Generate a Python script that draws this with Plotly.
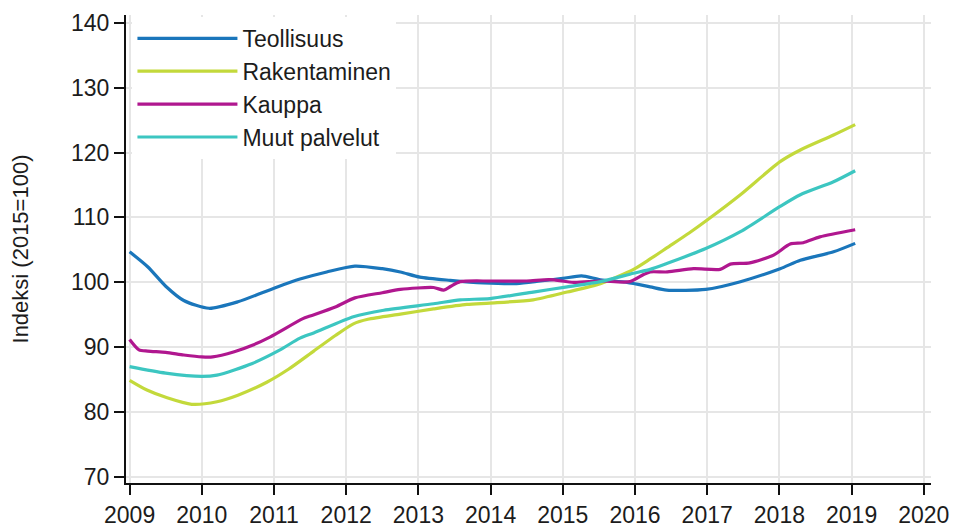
import plotly.graph_objects as go

# ---- data ----
series_names = ["Teollisuus", "Rakentaminen", "Kauppa", "Muut palvelut"]
series_colors = ["#1a76bb", "#c3d93b", "#b0178f", "#3cc6c1"]

teollisuus_x = [2009.0, 2009.25, 2009.5, 2009.75, 2010.1, 2010.5, 2011.0, 2011.36, 2011.73,
                2012.12, 2012.5, 2012.75, 2013.02, 2013.44, 2013.9, 2014.36, 2014.69, 2015.0,
                2015.26, 2015.52, 2015.89, 2016.21, 2016.44, 2016.98, 2017.46, 2018.01,
                2018.29, 2018.75, 2019.05]
teollisuus_y = [104.7, 102.4, 99.4, 97.2, 96.0, 97.0, 99.1, 100.5, 101.6,
                102.5, 102.1, 101.6, 100.8, 100.3, 99.9, 99.8, 100.2, 100.6,
                101.0, 100.4, 100.0, 99.3, 98.8, 98.9, 100.1, 102.1,
                103.4, 104.7, 106.0]

rakentaminen_x = [2009.0, 2009.24, 2009.52, 2009.86, 2010.21, 2010.5, 2010.9, 2011.2, 2011.55,
                  2011.85, 2012.1, 2012.3, 2012.75, 2013.21, 2013.67, 2013.99, 2014.59, 2015.06,
                  2015.52, 2015.98, 2016.21, 2016.44, 2016.75, 2017.0, 2017.46, 2018.01,
                  2018.29, 2018.75, 2019.05]
rakentaminen_y = [84.9, 83.4, 82.2, 81.2, 81.6, 82.6, 84.6, 86.6, 89.4,
                  91.8, 93.6, 94.3, 95.1, 95.9, 96.6, 96.8, 97.3, 98.5,
                  99.8, 102.0, 103.6, 105.3, 107.6, 109.6, 113.5, 118.6,
                  120.4, 122.7, 124.3]

kauppa_x = [2009.0, 2009.13, 2009.25, 2009.5, 2009.75, 2010.0, 2010.15, 2010.45, 2010.7,
            2010.95, 2011.4, 2011.5, 2011.85, 2012.12, 2012.5, 2012.75, 2013.21, 2013.35,
            2013.45, 2013.58, 2014.0, 2014.5, 2014.82, 2015.15, 2015.52, 2015.93, 2016.12,
            2016.21, 2016.45, 2016.81, 2017.18, 2017.32, 2017.59, 2017.92, 2018.15, 2018.33,
            2018.56, 2019.05]
kauppa_y = [91.2, 89.6, 89.4, 89.2, 88.8, 88.5, 88.5, 89.3, 90.3,
            91.6, 94.4, 94.8, 96.2, 97.6, 98.4, 98.9, 99.2, 98.8,
            99.4, 100.1, 100.2, 100.2, 100.4, 100.0, 100.2, 100.1, 101.2,
            101.6, 101.6, 102.1, 102.0, 102.8, 103.0, 104.2, 105.9, 106.1,
            107.0, 108.1]

muut_x = [2009.0, 2009.5, 2010.0, 2010.21, 2010.7, 2011.07, 2011.36, 2011.55, 2012.1,
          2012.52, 2013.21, 2013.58, 2013.99, 2014.59, 2015.06, 2015.52, 2015.98, 2016.21,
          2016.44, 2016.98, 2017.46, 2018.01, 2018.29, 2018.75, 2019.05]
muut_y = [87.0, 86.0, 85.5, 85.7, 87.5, 89.5, 91.4, 92.2, 94.7,
          95.7, 96.7, 97.3, 97.5, 98.5, 99.3, 100.1, 101.4, 102.0,
          102.9, 105.2, 107.8, 111.7, 113.5, 115.5, 117.2]

x_ticks = list(range(2009, 2021))
y_ticks = list(range(70, 141, 10))
y_title = "Indeksi (2015=100)"

FONT = "Liberation Sans, Arial, sans-serif"
FS = 23

fig = go.Figure()
for name, color, xs, ys in zip(series_names, series_colors,
                               [teollisuus_x, rakentaminen_x, kauppa_x, muut_x],
                               [teollisuus_y, rakentaminen_y, kauppa_y, muut_y]):
    fig.add_trace(go.Scatter(x=xs, y=ys, name=name, mode="lines",
                             line=dict(color=color, width=3.2, shape="spline", smoothing=0.7)))

fig.update_layout(
    width=953, height=529,
    margin=dict(l=126, r=22, t=15, b=46, autoexpand=False),
    paper_bgcolor="white", plot_bgcolor="white",
    font=dict(family=FONT, size=FS, color="#1c1c1c"),
    showlegend=True,
    legend=dict(x=0.008, y=0.996, xanchor="left", yanchor="top",
                bgcolor="white", borderwidth=0, itemwidth=100,
                font=dict(family=FONT, size=FS, color="#1c1c1c"),
                tracegroupgap=0),
)
fig.update_xaxes(range=[2008.95, 2020.1], tickvals=x_ticks, ticktext=[str(v) for v in x_ticks],
                 showline=True, linecolor="#111111", linewidth=2,
                 ticks="outside", ticklen=10, tickwidth=2, tickcolor="#111111",
                 showgrid=True, gridcolor="#e6e6e6", gridwidth=2, zeroline=False)
fig.update_yaxes(range=[69.07, 141.2], tickvals=y_ticks, ticktext=[str(v) for v in y_ticks],
                 showline=True, linecolor="#111111", linewidth=2,
                 ticks="outside", ticklen=10, tickwidth=2, tickcolor="#111111",
                 showgrid=True, gridcolor="#e6e6e6", gridwidth=2, zeroline=False,
                 title=dict(text=y_title, standoff=36, font=dict(family=FONT, size=FS - 1)))

fig.write_html("out.html", config={"displayModeBar": False},
               post_script="document.body.style.margin='0';document.body.style.overflow='hidden';")
